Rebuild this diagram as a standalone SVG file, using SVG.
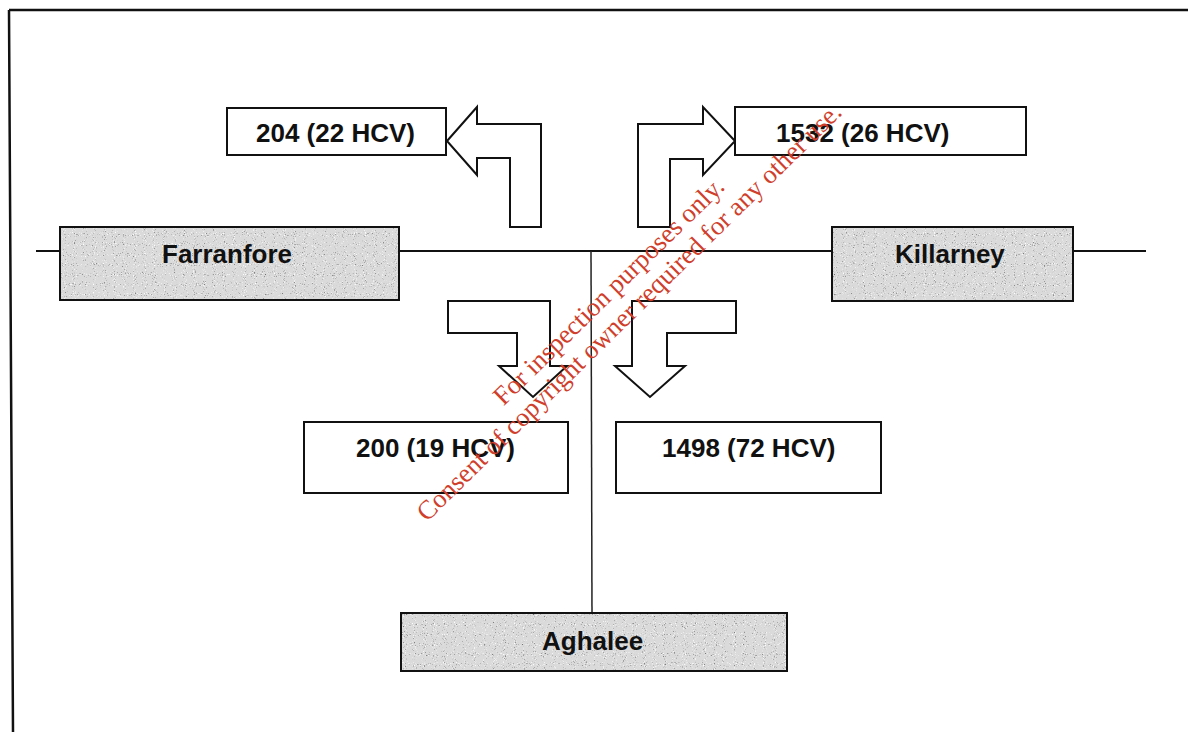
<svg xmlns="http://www.w3.org/2000/svg" width="1188" height="732" viewBox="0 0 1188 732">
  <style>
    .box { fill: #ffffff; stroke: #111; stroke-width: 2; }
    .gbox { fill: #dadada; stroke: none; }
    .gedge { fill: none; stroke: #111; stroke-width: 2; }
    .lbl { font-family: "Liberation Sans", Arial, sans-serif; font-weight: bold; font-size: 26px; fill: #111; }
    .line { stroke: #111; stroke-width: 2; fill: none; }
    .vline { stroke: #222; stroke-width: 1.5; fill: none; }
    .barrow { fill: #ffffff; stroke: #111; stroke-width: 2; stroke-linejoin: miter; }
    .wm { font-family: "Liberation Serif", "Times New Roman", serif; font-size: 26.5px; fill: #cf3f2c; text-anchor: middle; }
  </style>
  <defs>
    <filter id="speck" x="0" y="0" width="100%" height="100%" color-interpolation-filters="sRGB">
      <feTurbulence type="fractalNoise" baseFrequency="0.9" numOctaves="1" seed="7" result="n"/>
      <feColorMatrix in="n" type="matrix" values="0 0 0 0 0.45  0 0 0 0 0.45  0 0 0 0 0.45  5 0 0 0 -3.1" result="dark"/>
      <feColorMatrix in="n" type="matrix" values="0 0 0 0 1  0 0 0 0 1  0 0 0 0 1  0 5 0 0 -3.0" result="light"/>
      <feMerge result="m">
        <feMergeNode in="light"/>
        <feMergeNode in="dark"/>
      </feMerge>
      <feComposite in="m" in2="SourceGraphic" operator="in"/>
    </filter>
  </defs>

  <rect x="0" y="0" width="1188" height="732" fill="#ffffff"/>
  <!-- outer frame -->
  <path d="M9 10 L1188 10 M9 10 L13 732" stroke="#111" stroke-width="2.5" fill="none"/>

  <g id="connectors">
    <line class="line" x1="36" y1="251" x2="1146" y2="251"/>
    <line class="vline" x1="591" y1="251" x2="592" y2="613"/>
    <polygon class="barrow" points="447,141 477,107 477,124 541,124 541,227 510,227 510,158 477,158 477,175"/>
    <polygon class="barrow" points="735,141 703,107 703,124 638,124 638,227 670,227 670,159 703,159 703,175"/>
    <polygon class="barrow" points="448,301 550,301 550,366 567,366 533,397 499,366 517,366 517,333 448,333"/>
    <polygon class="barrow" points="632,301 736,301 736,333 667,333 667,366 685,366 650,397 615,366 632,366"/>
  </g>

  <g id="farranfore">
    <rect class="gbox" x="60" y="227" width="339" height="73"/>
    <rect x="60" y="227" width="339" height="73" fill="#000" filter="url(#speck)"/>
    <rect class="gedge" x="60" y="227" width="339" height="73"/>
    <text class="lbl" x="162" y="263">Farranfore</text>
  </g>

  <g id="killarney">
    <rect class="gbox" x="832" y="227" width="241" height="74"/>
    <rect x="832" y="227" width="241" height="74" fill="#000" filter="url(#speck)"/>
    <rect class="gedge" x="832" y="227" width="241" height="74"/>
    <text class="lbl" x="895" y="263">Killarney</text>
  </g>

  <g id="aghalee">
    <rect class="gbox" x="401" y="613" width="386" height="58"/>
    <rect x="401" y="613" width="386" height="58" fill="#000" filter="url(#speck)"/>
    <rect class="gedge" x="401" y="613" width="386" height="58"/>
    <text class="lbl" x="542" y="650">Aghalee</text>
  </g>

  <g id="flow-204">
    <rect class="box" x="227" y="108" width="219" height="47"/>
    <text class="lbl" x="256" y="142">204 (22 HCV)</text>
  </g>

  <g id="flow-1532">
    <rect class="box" x="735" y="107" width="291" height="48"/>
    <text class="lbl" x="776" y="142">1532 (26 HCV)</text>
  </g>

  <g id="flow-200">
    <rect class="box" x="304" y="422" width="264" height="71"/>
    <text class="lbl" x="356" y="457">200 (19 HCV)</text>
  </g>

  <g id="flow-1498">
    <rect class="box" x="616" y="422" width="265" height="71"/>
    <text class="lbl" x="662" y="457">1498 (72 HCV)</text>
  </g>

  <g id="watermark" transform="translate(635,318) rotate(-44.5)">
    <text class="wm" x="0" y="-29">For inspection purposes only.</text>
    <text class="wm" x="0" y="0">Consent of copyright owner required for any other use.</text>
  </g>
</svg>
